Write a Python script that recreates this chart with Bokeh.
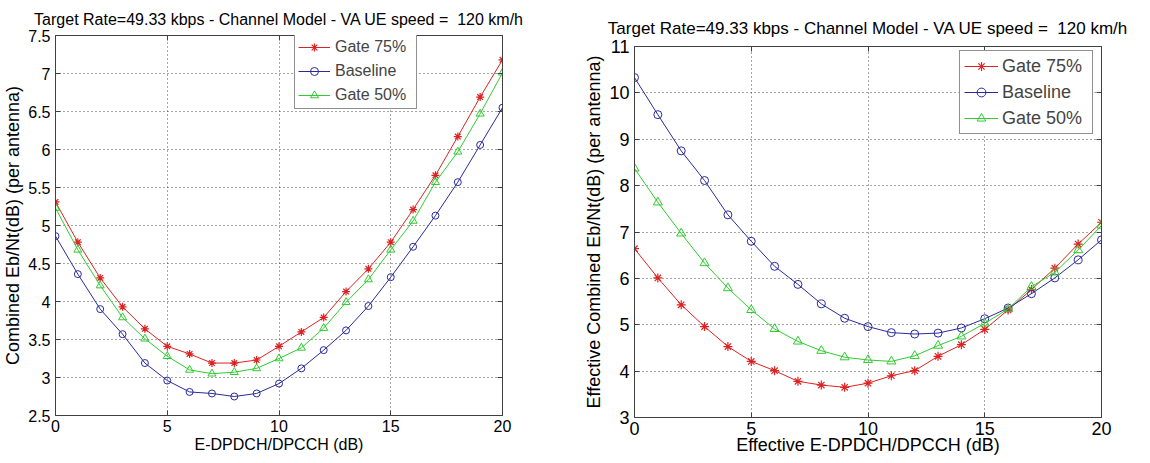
from bokeh.plotting import figure
from bokeh.layouts import row, column
from bokeh.models import LinearAxis, FixedTicker, Legend, LegendItem, Range1d, Spacer
from bokeh.embed import file_html
from bokeh.resources import INLINE

# ---------------- data ----------------
x_db = list(range(21))

title_text = "Target Rate=49.33 kbps - Channel Model - VA UE speed = \u00a0120 km/h"
series_names = ["Gate 75%", "Baseline", "Gate 50%"]

left_gate75 = [5.31, 4.78, 4.31, 3.93, 3.64, 3.41, 3.31, 3.19, 3.19, 3.23, 3.41,
               3.60, 3.79, 4.13, 4.43, 4.78, 5.21, 5.66, 6.17, 6.69, 7.18]
left_baseline = [4.86, 4.36, 3.90, 3.57, 3.19, 2.96, 2.81, 2.79, 2.75, 2.79, 2.92,
                 3.12, 3.36, 3.62, 3.94, 4.32, 4.72, 5.13, 5.57, 6.06, 6.55]
left_gate50 = [5.23, 4.68, 4.21, 3.79, 3.51, 3.28, 3.10, 3.05, 3.07, 3.12, 3.25,
               3.39, 3.65, 3.99, 4.29, 4.68, 5.06, 5.57, 5.97, 6.47, 7.01]

right_gate75 = [6.64, 6.01, 5.43, 4.96, 4.53, 4.21, 4.01, 3.78, 3.70, 3.65, 3.74,
                3.90, 4.01, 4.32, 4.57, 4.90, 5.32, 5.76, 6.22, 6.74, 7.21]
right_baseline = [10.33, 9.53, 8.75, 8.11, 7.37, 6.80, 6.26, 5.87, 5.45, 5.14, 4.96,
                  4.83, 4.80, 4.82, 4.93, 5.13, 5.36, 5.67, 6.01, 6.40, 6.83]
right_gate50 = [8.37, 7.64, 6.97, 6.33, 5.79, 5.32, 4.91, 4.64, 4.44, 4.30, 4.24,
                4.21, 4.33, 4.55, 4.75, 5.03, 5.34, 5.82, 6.13, 6.61, 7.14]

x_ticks = [0, 5, 10, 15, 20]
left_y_ticks = [2.5, 3, 3.5, 4, 4.5, 5, 5.5, 6, 6.5, 7, 7.5]
right_y_ticks = [3, 4, 5, 6, 7, 8, 9, 10, 11]

# ---------------- style ----------------
FONT = "Liberation Sans"
RED = "#dd2222"
BLUE = "#2a2a9c"
GREEN = "#2fcc2f"
AX = "#404040"


def make_fig(xlab, ylab, yr, yticks, fw, fh, bl, br, bt, bb,
             tick_fs, xlab_fs, ylab_fs, title_fs, title_standoff,
             xl_so, xa_so, data, msize, legend_loc, leg_fs, leg_cfg):
    p = figure(frame_width=fw, frame_height=fh, output_backend="svg", toolbar_location=None,
               x_range=Range1d(0, 20), y_range=Range1d(*yr),
               min_border_left=bl, min_border_right=br,
               min_border_top=bt, min_border_bottom=bb,
               title=title_text)
    p.title.text_font = FONT
    p.title.text_font_size = title_fs
    p.title.text_font_style = "normal"
    p.title.align = "center"
    p.title.standoff = title_standoff
    p.title.text_color = "black"
    p.outline_line_color = AX
    p.outline_line_width = 1
    p.background_fill_color = "white"
    p.border_fill_color = "white"

    for ax, ticks in ((p.xaxis[0], x_ticks), (p.yaxis[0], yticks)):
        ax.ticker = FixedTicker(ticks=ticks)
        ax.major_tick_in = 5
        ax.major_tick_out = 0
        ax.minor_tick_line_color = None
        ax.axis_line_color = AX
        ax.major_tick_line_color = AX
        ax.major_label_text_font = FONT
        ax.major_label_text_font_size = tick_fs
        ax.major_label_text_color = "black"
        ax.axis_label_text_font = FONT
        ax.axis_label_text_font_style = "normal"
        ax.axis_label_text_color = "black"
    p.xaxis[0].axis_label = xlab
    p.yaxis[0].axis_label = ylab
    p.xaxis[0].axis_label_text_font_size = xlab_fs
    p.yaxis[0].axis_label_text_font_size = ylab_fs
    p.xaxis[0].major_label_standoff = xl_so
    p.xaxis[0].axis_label_standoff = xa_so
    p.yaxis[0].major_label_standoff = 5
    p.yaxis[0].axis_label_standoff = 2

    # mirrored tick marks (box on)
    for loc, ticks in (("right", yticks), ("above", x_ticks)):
        a = LinearAxis(ticker=FixedTicker(ticks=ticks), major_tick_in=5, major_tick_out=0,
                       minor_tick_line_color=None, axis_line_color=AX,
                       major_tick_line_color=AX, major_label_text_font_size="1px",
                       major_label_text_color=None, major_label_standoff=0)
        p.add_layout(a, loc)

    for grid in (p.xgrid[0], p.ygrid[0]):
        grid.grid_line_color = "#222222"
        grid.grid_line_dash = "1 3"
        grid.grid_line_width = 1
        grid.grid_line_alpha = 0.8
    p.xgrid[0].ticker = FixedTicker(ticks=x_ticks)
    p.ygrid[0].ticker = FixedTicker(ticks=yticks)

    g75, base, g50 = data
    items = []
    r1 = p.line(x_db, g75, color=RED, line_width=1)
    r1m = p.scatter(x_db, g75, marker="asterisk", size=msize + 1, line_color=RED, line_width=1.2)
    items.append(LegendItem(label=series_names[0], renderers=[r1, r1m]))
    r2 = p.line(x_db, base, color=BLUE, line_width=1)
    r2m = p.scatter(x_db, base, marker="circle", size=msize, line_color=BLUE,
                    fill_color=None, line_width=1)
    items.append(LegendItem(label=series_names[1], renderers=[r2, r2m]))
    r3 = p.line(x_db, g50, color=GREEN, line_width=1)
    r3m = p.scatter(x_db, g50, marker="triangle", size=msize + 1, line_color=GREEN,
                    fill_color=None, line_width=1)
    items.append(LegendItem(label=series_names[2], renderers=[r3, r3m]))

    leg = Legend(items=items, location=legend_loc)
    leg.label_text_font = FONT
    leg.label_text_font_size = leg_fs
    leg.border_line_color = "#222222"
    leg.border_line_width = 1
    leg.background_fill_color = "white"
    leg.background_fill_alpha = 1
    leg.glyph_width = leg_cfg["gw"]
    leg.glyph_height = leg_cfg["lh"]
    leg.label_height = leg_cfg["lh"]
    leg.label_width = leg_cfg["lw"]
    leg.label_standoff = leg_cfg["ls"]
    leg.padding = leg_cfg["pad"]
    leg.spacing = leg_cfg["sp"]
    leg.margin = 0
    p.add_layout(leg, "center")
    return p


p1 = make_fig("E-DPDCH/DPCCH (dB)", "Combined Eb/Nt(dB) (per antenna)",
              (2.5, 7.5), left_y_ticks, 447, 380, 46, 63, 29, 38,
              "16px", "16px", "18px", "16px", 16, 4, 1,
              (left_gate75, left_baseline, left_gate50), 7,
              (239, 306), "16px",
              dict(gw=32, lh=20, lw=78, ls=5, pad=3, sp=4))

p2 = make_fig("Effective E-DPDCH/DPCCH (dB)", "Effective Combined Eb/Nt(dB) (per antenna)",
              (3, 11), right_y_ticks, 467, 371, 69, 34, 31, 38,
              "18px", "18px", "18px", "17px", 18, 4, -3,
              (right_gate75, right_baseline, right_gate50), 8,
              (325, 283), "18px",
              dict(gw=34, lh=22, lw=86, ls=4, pad=4, sp=4))

layout = row(p1, column(Spacer(height=7, width=10), p2, spacing=0))
layout.spacing = 0

open("out.html", "w").write(file_html(layout, INLINE))
